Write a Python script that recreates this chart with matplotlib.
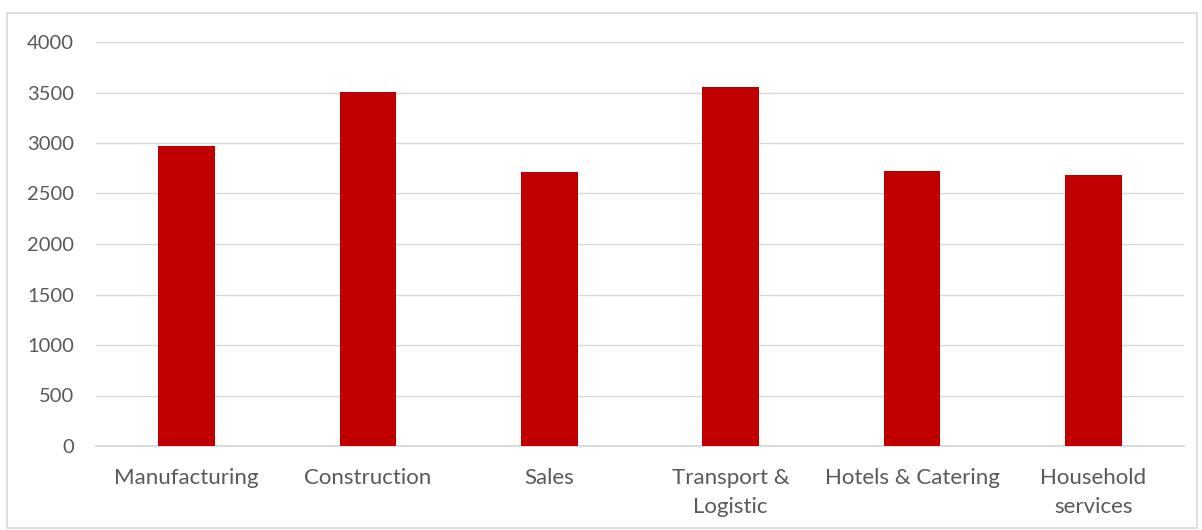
import matplotlib.pyplot as plt
from matplotlib.patches import Rectangle

# Sector values
sectors = ["Manufacturing", "Construction", "Sales", "Transport &\nLogistic",
           "Hotels & Catering", "Household\nservices"]
values = [2970, 3505, 2713, 3550, 2723, 2686]
yticks = [0, 500, 1000, 1500, 2000, 2500, 3000, 3500, 4000]

plt.rcParams['font.family'] = ['Lato', 'DejaVu Sans']

fig = plt.figure(figsize=(12.02, 5.30), dpi=100)
ax = fig.add_axes([96 / 1202, 84 / 530, 1088 / 1202, 404 / 530])

x = range(len(sectors))
ax.bar(x, values, width=0.313, color="#C00000", zorder=3)

ax.set_xlim(-0.5, len(sectors) - 0.5)
ax.set_ylim(0, 4000)
ax.set_yticks(yticks)
ax.set_xticks(list(x))
ax.set_xticklabels(sectors, linespacing=1.55)

ax.grid(axis="y", color="#D9D9D9", linewidth=1.0, zorder=0)
for s in ["top", "right", "left"]:
    ax.spines[s].set_visible(False)
ax.spines["bottom"].set_color("#D9D9D9")
ax.spines["bottom"].set_linewidth(1.3)
ax.tick_params(axis="both", length=0, colors="#595959")
ax.tick_params(axis="x", labelsize=16, pad=16)
ax.tick_params(axis="y", labelsize=14.5, pad=16)

# Chart frame
fig.patches.append(Rectangle((7 / 1202, 2 / 530), 1190 / 1202, 515 / 530,
                             transform=fig.transFigure, fill=False,
                             edgecolor="#D9D9D9", linewidth=1.2))

fig.savefig("out.png", dpi=100)
